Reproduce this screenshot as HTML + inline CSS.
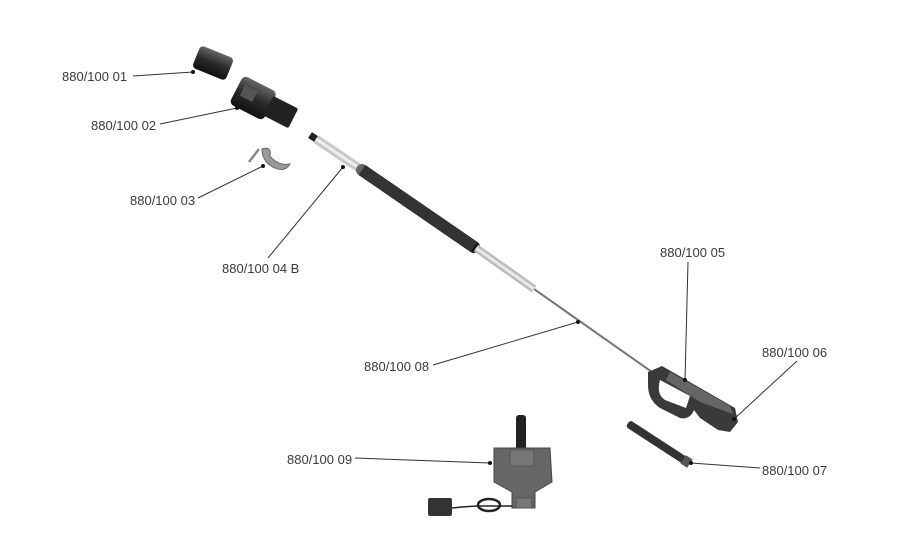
<!DOCTYPE html>
<html><head><meta charset="utf-8"><style>
html,body{margin:0;padding:0;background:#fff;}
svg{display:block}
text{font-family:"Liberation Sans",sans-serif;font-size:13px;fill:#3a3a3a}
</style></head><body>
<svg width="900" height="559" viewBox="0 0 900 559" xmlns="http://www.w3.org/2000/svg">
<defs>
<linearGradient id="dk" x1="0" y1="0" x2="0" y2="1"><stop offset="0" stop-color="#666"/><stop offset=".5" stop-color="#2a2a2a"/><stop offset="1" stop-color="#111"/></linearGradient>
<linearGradient id="gy" x1="0" y1="0" x2="0" y2="1"><stop offset="0" stop-color="#aaa"/><stop offset=".5" stop-color="#777"/><stop offset="1" stop-color="#444"/></linearGradient>
</defs>
<!-- part 01 -->
<g transform="translate(213,63) rotate(22)">
<rect x="-18" y="-12" width="36" height="24" rx="4" fill="url(#dk)"/>
</g>
<!-- part 02 -->
<g transform="translate(263,103) rotate(27)">
<rect x="-30" y="-16" width="38" height="32" rx="5" fill="url(#dk)"/>
<rect x="6" y="-11" width="28" height="22" rx="2" fill="#222"/>
<rect x="-24" y="-8" width="14" height="12" fill="#555"/>
</g>
<!-- part 03 -->
<line x1="249" y1="162" x2="259" y2="149" stroke="#888" stroke-width="2.5"/>
<path d="M262,149 Q272,146 270,156 Q278,166 290,164 Q284,174 271,166 Q262,160 262,149Z" fill="#999" stroke="#666"/>
<!-- pole -->
<line x1="310" y1="135" x2="316" y2="139" stroke="#222" stroke-width="7"/>
<line x1="316" y1="139" x2="362" y2="170" stroke="#c8c8c8" stroke-width="9"/>
<line x1="316" y1="139" x2="362" y2="170" stroke="#eee" stroke-width="3"/>
<line x1="362" y1="170" x2="474" y2="247" stroke="url(#dk)" stroke-width="12" stroke-linecap="round"/>
<line x1="362" y1="170" x2="474" y2="247" stroke="#333" stroke-width="12"/>
<line x1="476" y1="248" x2="534" y2="289" stroke="#bbb" stroke-width="8"/>
<line x1="476" y1="248" x2="534" y2="289" stroke="#e8e8e8" stroke-width="3"/>
<line x1="534" y1="289" x2="652" y2="372" stroke="#777" stroke-width="2"/>
<!-- handle -->
<path d="M648,372 L662,366 L735,408 L738,422 L730,432 L718,430 L700,418 L694,410 Q690,420 680,418 L660,408 Q648,400 648,385Z" fill="#3a3a3a"/>
<path d="M660,380 L690,396 L686,408 L665,400 Q656,394 660,380Z" fill="#fff"/>
<path d="M670,372 L730,406 L733,414 L700,402 L666,380Z" fill="#666"/>
<!-- part 07 -->
<g transform="translate(658,443) rotate(33)">
<rect x="-36" y="-4" width="72" height="8" rx="3" fill="#333"/>
<rect x="30" y="-5" width="8" height="10" fill="#555"/>
</g>
<!-- part 09 -->
<rect x="516" y="415" width="10" height="38" rx="3" fill="#222"/>
<circle cx="536" cy="454" r="5" fill="#222"/>
<path d="M494,448 L550,448 L552,482 L535,492 L535,508 L512,508 L512,492 L494,482Z" fill="#666" stroke="#444"/>
<rect x="510" y="450" width="24" height="16" fill="#777" stroke="#555"/>
<rect x="516" y="498" width="16" height="10" fill="#777" stroke="#555"/>
<rect x="428" y="498" width="24" height="18" rx="2" fill="#333"/>
<path d="M452,508 Q470,506 482,506 Q500,506 512,506" fill="none" stroke="#222" stroke-width="1.5"/>
<ellipse cx="489" cy="505" rx="11" ry="6" fill="none" stroke="#222" stroke-width="2.5"/>
<!-- leaders -->
<g stroke="#333" stroke-width="1" fill="#111">
<line x1="133" y1="76" x2="193" y2="72"/><circle cx="193" cy="72" r="2" stroke="none"/>
<line x1="160" y1="124" x2="237" y2="108"/><circle cx="237" cy="108" r="2" stroke="none"/>
<line x1="198" y1="198" x2="263" y2="166"/><circle cx="263" cy="166" r="2" stroke="none"/>
<line x1="268" y1="258" x2="343" y2="167"/><circle cx="343" cy="167" r="2" stroke="none"/>
<line x1="688" y1="262" x2="685" y2="380"/><circle cx="685" cy="380" r="2" stroke="none"/>
<line x1="797" y1="361" x2="734" y2="419"/><circle cx="734" cy="419" r="2" stroke="none"/>
<line x1="760" y1="468" x2="691" y2="463"/><circle cx="691" cy="463" r="2" stroke="none"/>
<line x1="433" y1="365" x2="578" y2="322"/><circle cx="578" cy="322" r="2" stroke="none"/>
<line x1="355" y1="458" x2="490" y2="463"/><circle cx="490" cy="463" r="2" stroke="none"/>
</g>
<text x="62" y="81">880/100 01</text>
<text x="91" y="130">880/100 02</text>
<text x="130" y="205">880/100 03</text>
<text x="222" y="273">880/100 04 B</text>
<text x="660" y="257">880/100 05</text>
<text x="762" y="357">880/100 06</text>
<text x="762" y="475">880/100 07</text>
<text x="364" y="371">880/100 08</text>
<text x="287" y="464">880/100 09</text>
</svg>
</body></html>
